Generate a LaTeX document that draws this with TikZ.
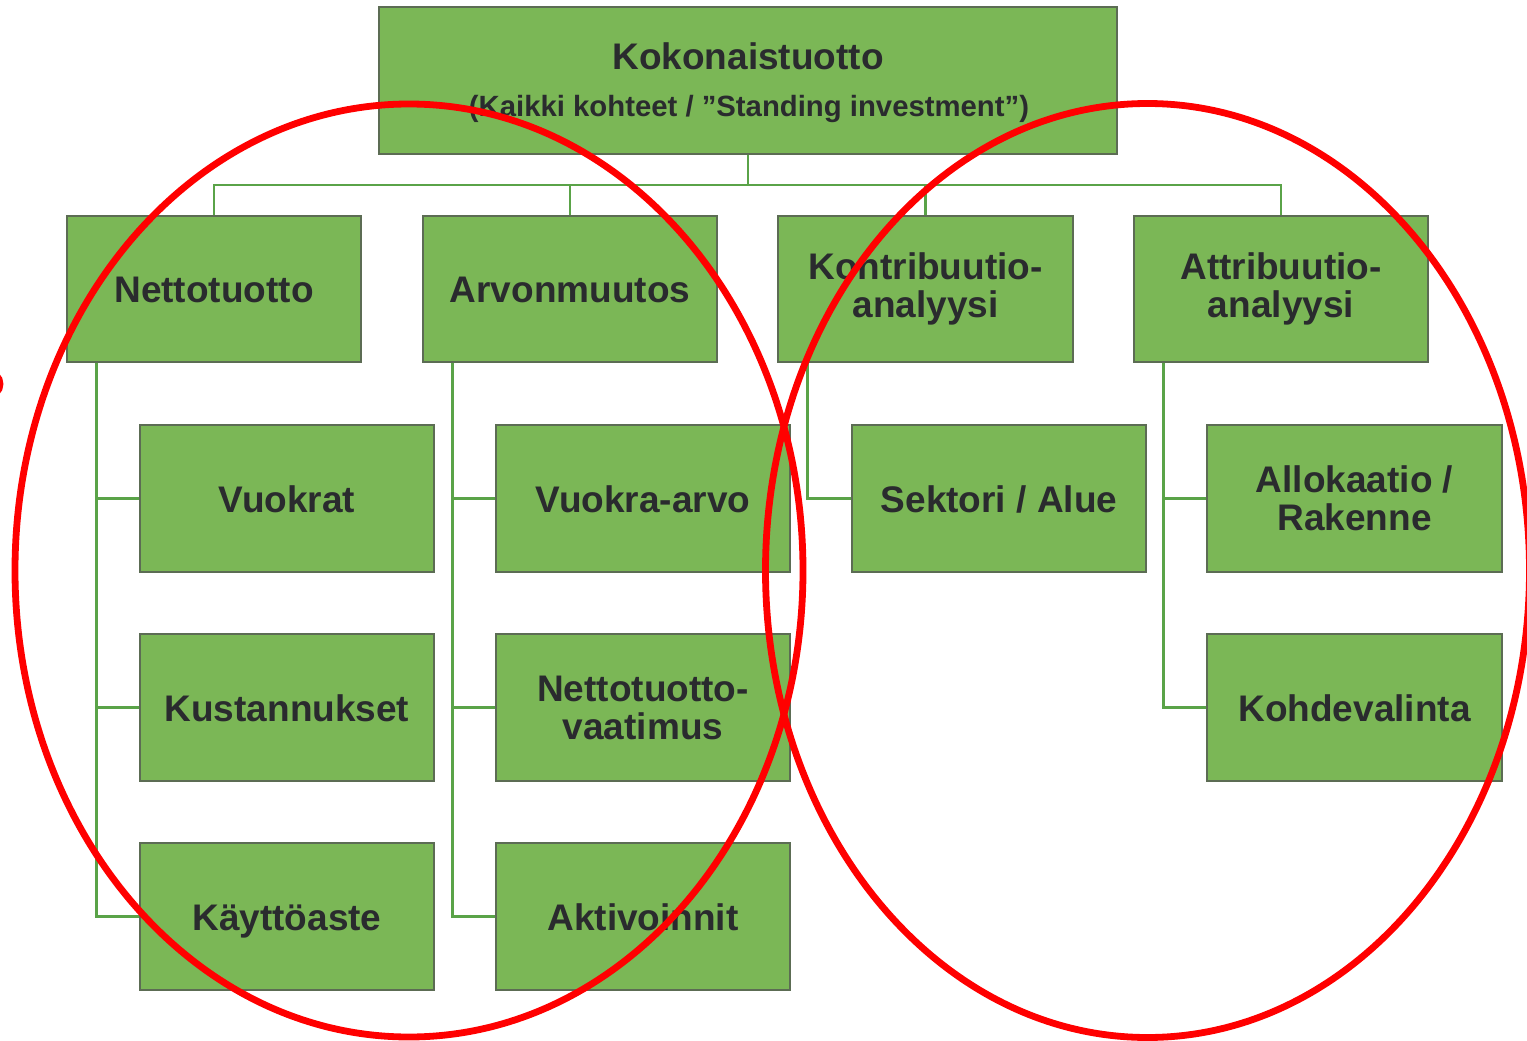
\documentclass[tikz,border=0pt]{standalone}
\usepackage{fontspec}
\setmainfont{Liberation Sans}
\definecolor{boxfill}{RGB}{123,183,86}
\definecolor{boxline}{RGB}{92,108,84}
\definecolor{conn}{RGB}{90,163,72}
\definecolor{txt}{RGB}{42,43,46}
\definecolor{ring}{RGB}{255,0,0}
\tikzset{
  gbox/.style={draw=boxline, line width=1.3pt, fill=boxfill, inner sep=0pt,
    minimum width=294pt, minimum height=146pt, align=center,
    text=txt, font=\fontsize{37}{38}\selectfont\bfseries},
  onel/.style={text height=27pt, text depth=0pt},
  bigbox/.style={gbox, minimum width=738pt, minimum height=147pt},
  lbl/.style={anchor=base, inner sep=0pt, text=txt},
  link/.style={draw=conn, line width=2.6pt},
  ringline/.style={draw=ring, line width=6.8pt}
}
\begin{document}
\begin{tikzpicture}[x=1pt,y=-1pt]
\useasboundingbox (0,0) rectangle (1527,1041);
\fill[white] (0,0) rectangle (1527,1041);

% top box
\node[bigbox] (top) at (748,80.5) {};
\node[lbl, font=\fontsize{37}{38}\selectfont\bfseries] (topA) at (748,70) {Kokonaistuotto};
\node[lbl, font=\fontsize{29.3}{30}\selectfont\bfseries] (topB) at (749,117) {(Kaikki kohteet / ”Standing investment”)};

% level 2
\node[gbox, onel] (n1) at (214,289) {Nettotuotto};
\node[gbox, onel] (n2) at (570,289) {Arvonmuutos};
\node[gbox, minimum width=295pt] (n3) at (925.5,289) {Kontribuutio-\\analyysi};
\node[gbox] (n4) at (1281,289) {Attribuutio-\\analyysi};

% level 3
\node[gbox, onel, minimum height=147pt] (a1) at (287,498.5) {Vuokrat};
\node[gbox, onel, minimum height=147pt] (a2) at (287,707.5) {Kustannukset};
\node[gbox, onel, minimum height=147pt] (a3) at (287,916.5) {Käyttöaste};
\node[gbox, onel, minimum height=147pt] (b1) at (643,498.5) {Vuokra-arvo};
\node[gbox, minimum height=147pt] (b2) at (643,707.5) {Nettotuotto-\\vaatimus};
\node[gbox, onel, minimum height=147pt] (b3) at (643,916.5) {Aktivoinnit};
\node[gbox, onel, minimum height=147pt] (c1) at (999,498.5) {Sektori / Alue};
\node[gbox, minimum height=147pt, minimum width=295pt] (d1) at (1354.5,498.5) {Allokaatio /\\Rakenne};
\node[gbox, onel, minimum height=147pt, minimum width=295pt] (d2) at (1354.5,707.5) {Kohdevalinta};

% connectors
\coordinate (bus) at (748,185);
\foreach \n in {n1,n2,n3,n4} \draw[link] (top.south) -- (bus) -| (\n.north);
\foreach \p/\c in {n1/a1,n1/a2,n1/a3,n2/b1,n2/b2,n2/b3,n3/c1,n4/d1,n4/d2}
  \draw[link] ([xshift=30pt]\p.south west) |- (\c.west);

% red rings
\draw[ringline] (409,570.5) ellipse [x radius=394, y radius=466.5];
\draw[ringline] (1147.5,570.5) ellipse [x radius=382, y radius=467];
\draw[ringline] (-12,384) circle [radius=12];
\end{tikzpicture}
\end{document}
